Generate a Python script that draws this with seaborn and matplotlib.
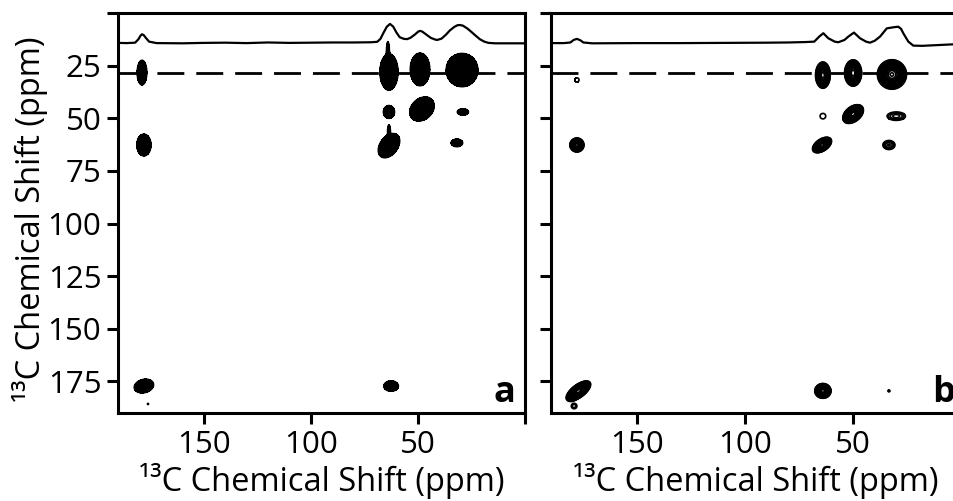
import numpy as np
import pandas as pd
import matplotlib
matplotlib.use("Agg")
import matplotlib.pyplot as plt
import seaborn as sns

# ---------------- data ----------------
X_TICKS = [150, 100, 50]
Y_TICKS = [25, 50, 75, 100, 125, 150, 175]
AXIS_LABEL = "¹³C Chemical Shift (ppm)"
PANEL_LABELS = ["a", "b"]
DASH_PPM = 28.5  # ppm position of the dashed slice line

# 1D projections (x: ppm, y: trace position in F1 ppm units)
trace_a_ppm = [190, 186, 182, 180.5, 179.5, 178.8, 178, 177, 175.5, 172, 160, 150, 140,
               130, 120, 110, 100, 90, 80, 72, 69, 67.5, 66, 64.5, 63.0, 61.5, 60, 58.5,
               56.5, 55, 53.5, 51.5, 49.8, 49, 48, 46, 44, 42, 41, 39, 37, 35, 33, 31.5,
               30.4, 29, 27, 25, 23, 21, 19, 17, 14, 8, 0]
trace_a_val = [14.2, 14.3, 14.1, 12.5, 10.8, 10.1, 10.5, 11.8, 13.6, 14.3, 14.4, 14.2, 14.1,
               14.3, 14.0, 14.2, 14.1, 14.0, 14.0, 13.9, 13.7, 12.3, 9.3, 6.5, 5.2, 6.5, 9.3,
               11.5, 12.3, 12.4, 11.8, 10.3, 8.8, 8.5, 8.8, 10.3, 11.8, 12.6, 12.8, 12.2,
               10.4, 8.2, 6.6, 5.8, 5.7, 6.0, 7.3, 9.0, 10.8, 12.5, 13.6, 14.2, 14.4, 14.4, 14.4]

trace_b_ppm = [190, 184, 181, 179.5, 178, 176.5, 175, 171, 150, 130, 110, 90, 80, 72, 68,
               65.7, 63.8, 61.5, 58.5, 56.9, 54, 52.2, 49.6, 46.8, 44, 42.2, 40, 37.5, 34.4,
               31.4, 29.1, 27.8, 26.7, 24.4, 22.1, 18, 10, 0]
trace_b_val = [14.3, 14.3, 14.0, 12.8, 12.3, 12.9, 14.0, 14.4, 14.3, 14.3, 14.2, 14.1, 14.0,
               13.8, 13.6, 11.2, 9.6, 12.0, 13.6, 13.9, 12.8, 11.2, 9.3, 12.0, 13.6, 14.1,
               13.2, 11.2, 7.3, 6.8, 6.5, 7.5, 9.7, 13.6, 15.5, 15.6, 15.2, 14.7]

# 2D cross peaks: centre (F2, F1 ppm), full extents along/across axis, tilt (deg), depth
peaks_a_x = [63.5, 64.0, 49.0, 29.4, 63.5, 48.1, 29.0, 63.5, 63.5, 31.8, 178.8, 177.9, 177.9, 62.5, 176.0]
peaks_a_y = [28.0, 18.0, 26.8, 27.1, 47.0, 45.6, 47.0, 63.0, 56.0, 61.7, 28.3, 62.7, 177.2, 177.2, 185.7]
peaks_a_w1 = [8.6, 1.5, 9.3, 15.0, 5.4, 13.0, 5.4, 13.0, 1.5, 5.6, 4.7, 6.8, 9.4, 7.0, 0.8]
peaks_a_w2 = [17.5, 9.0, 15.7, 16.0, 6.3, 10.0, 3.2, 8.5, 6.0, 3.8, 11.9, 10.5, 6.5, 5.1, 0.8]
peaks_a_tilt = [0, 0, 0, 0, 0, 45, 0, 55, 0, 0, 0, 0, 15, 0, 0]
peaks_a_depth = [60, 5, 60, 80, 20, 60, 8, 60, 5, 10, 30, 40, 40, 30, 2]

peaks_b_x = [64.0, 50.0, 32.0, 64.0, 50.0, 30.0, 64.4, 33.4, 178.0, 178.0, 177.3, 179.3, 64.0, 33.4]
peaks_b_y = [29.5, 28.5, 29.2, 49.0, 48.0, 49.0, 62.7, 62.7, 62.7, 31.8, 179.6, 186.7, 179.5, 179.5]
peaks_b_w1 = [6.8, 7.9, 13.5, 2.6, 11.0, 8.5, 10.0, 5.6, 6.5, 2.0, 13.6, 2.6, 7.5, 0.9]
peaks_b_w2 = [12.5, 12.5, 14.0, 2.6, 7.0, 4.0, 5.6, 4.3, 6.6, 2.0, 6.0, 2.6, 7.0, 0.9]
peaks_b_tilt = [0, 0, 0, 0, 40, 0, 35, 0, 0, 0, 38, 0, 0, 0]
peaks_b_depth = [80, 80, 120, 1.3, 300, 2.5, 300, 3.0, 300, 1.3, 300, 1.5, 300, 1.6]

# ---------------- helpers ----------------
grid = np.arange(0, 190.01, 0.2)
GX, GY = np.meshgrid(grid, grid)


def peak_field(px, py, w1, w2, tilt, depth):
    z = np.zeros_like(GX)
    for x0, y0, a, b, t, d in zip(px, py, w1, w2, tilt, depth):
        k = np.sqrt(2 * np.log(d))
        s1, s2 = (a / 2) / k, (b / 2) / k
        th = np.deg2rad(t)
        dx, dy = GX - x0, GY - y0
        u = dx * np.cos(th) + dy * np.sin(th)
        v = -dx * np.sin(th) + dy * np.cos(th)
        z += d * np.exp(-0.5 * ((u / s1) ** 2 + (v / s2) ** 2))
    return z


# ---------------- figure ----------------
sns.set_theme(style="ticks")
plt.rcParams["font.family"] = ["Open Sans", "DejaVu Sans"]

W, H = 954, 501
fig = plt.figure(figsize=(W / 100, H / 100), dpi=100)
ax_a = fig.add_axes([118 / W, 1 - 413 / H, 407 / W, 400 / H])
ax_b = fig.add_axes([551 / W, 1 - 413 / H, 410 / W, 400 / H])

FS = 22.5
FS_LAB = 23.5
for ax, tp, tv, lab in [(ax_a, trace_a_ppm, trace_a_val, PANEL_LABELS[0]),
                        (ax_b, trace_b_ppm, trace_b_val, PANEL_LABELS[1])]:
    df = pd.DataFrame({"ppm": tp, "val": tv})
    sns.lineplot(data=df, x="ppm", y="val", ax=ax, color="black", lw=1.6,
                 sort=False, estimator=None)
    ax.axhline(DASH_PPM, color="black", lw=2.0, dashes=(9.7, 4.3))
    ax.set_xlim(190, 0)
    ax.set_ylim(190, 0)
    ax.set_xticks(X_TICKS + [0])
    ax.set_xticklabels([str(t) for t in X_TICKS] + [""])
    ax.set_yticks([0] + Y_TICKS)
    for s in ax.spines.values():
        s.set_linewidth(2.2)
        s.set_color("black")
    ax.tick_params(direction="out", length=8, width=2.2, colors="black",
                   labelsize=FS, pad=4)
    ax.set_xlabel(AXIS_LABEL, fontsize=FS_LAB, color="black")
    ax.xaxis.set_label_coords(0.5, -0.126)
    ax.set_ylabel("")
    ax.text(0.977 if ax is ax_a else 0.985, 0.027, lab, transform=ax.transAxes,
            ha="right", va="baseline", fontsize=26, fontweight="bold", color="black")

ax_a.set_yticklabels([""] + [str(t) for t in Y_TICKS])
ax_b.set_yticklabels([""] * (len(Y_TICKS) + 1))
ax_b.spines["right"].set_visible(False)
ax_a.set_ylabel(AXIS_LABEL, fontsize=FS_LAB, color="black")
ax_a.yaxis.set_label_coords(-0.172, 0.485)

za = peak_field(peaks_a_x, peaks_a_y, peaks_a_w1, peaks_a_w2, peaks_a_tilt, peaks_a_depth)
ax_a.contourf(GX, GY, za, levels=[1.0, 1e9], colors=["black"])
ax_a.contour(GX, GY, za, levels=[1.0], colors=["black"], linewidths=0.8)

zb = peak_field(peaks_b_x, peaks_b_y, peaks_b_w1, peaks_b_w2, peaks_b_tilt, peaks_b_depth)
levels_b = 1.0 * 1.3 ** np.arange(0, 26)
ax_b.contour(GX, GY, zb, levels=levels_b, colors=["black"], linewidths=1.2)

fig.savefig("out.png", dpi=100)
